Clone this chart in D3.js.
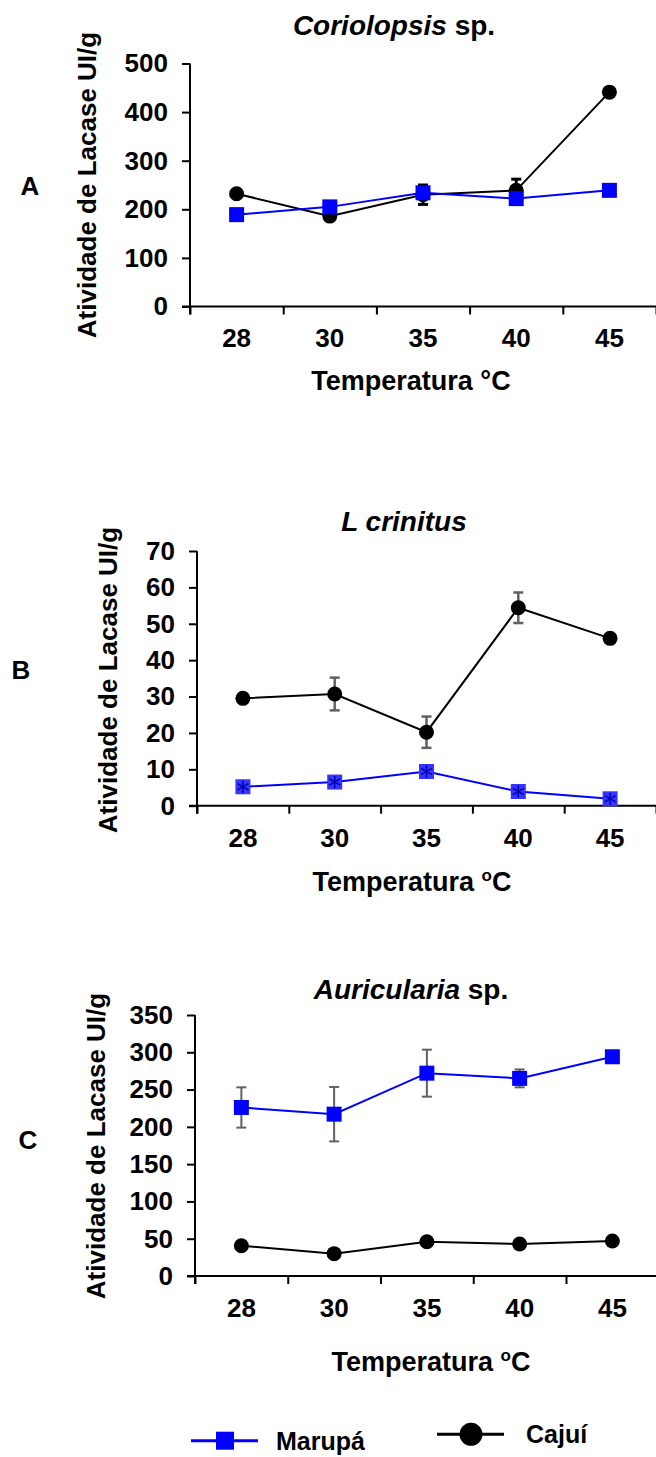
<!DOCTYPE html>
<html>
<head>
<meta charset="utf-8">
<script src="https://cdn.jsdelivr.net/npm/d3@7"></script>
<style>
  html, body { margin: 0; padding: 0; background: #fff; }
  svg { display: block; font-family: "Liberation Sans", Arial, sans-serif; font-weight: bold; }
</style>
</head>
<body>
<script>
// ---------------- DATA ----------------
const categories = ["28", "30", "35", "40", "45"];
const seriesNames = ["Marupá", "Cajuí"];

// Panel A – Coriolopsis sp.
const marupaA    = [189, 205, 234, 222, 239];
const marupaAErr = [3, 4, 5, 5, 4];
const cajuiA     = [232, 186, 230, 239, 441];
const cajuiAErr  = [5, 5, 20, 23, 8];
const ticksA     = [0, 100, 200, 300, 400, 500];

// Panel B – L crinitus
const marupaB    = [5.2, 6.5, 9.4, 3.9, 1.9];
const marupaBErr = [0, 0, 0, 0, 0];
const cajuiB     = [29.5, 30.7, 20.2, 54.4, 46.0];
const cajuiBErr  = [0, 4.5, 4.3, 4.2, 0];
const ticksB     = [0, 10, 20, 30, 40, 50, 60, 70];

// Panel C – Auricularia sp.
const marupaC    = [226, 217, 272, 265, 294];
const marupaCErr = [27, 36.5, 31.5, 12, 0];
const cajuiC     = [40.5, 30, 46, 43, 47];
const cajuiCErr  = [0, 0, 0, 0, 0];
const ticksC     = [0, 50, 100, 150, 200, 250, 300, 350];

const yLabel = "Atividade de Lacase UI/g";

// ---------------- DRAWING ----------------
const svg = d3.select("body").append("svg").attr("width", 656).attr("height", 1457);

const BLUE = "#0000ff";

function panel(p) {
  const g = svg.append("g");
  const x = d3.scaleBand().domain(categories).range([p.x0, p.x1]).padding(0);
  const xb = d3.scaleLinear().domain([0, categories.length]).range([p.x0, p.x1]);
  const y = d3.scaleLinear().domain([0, d3.max(p.yTicks)]).range([p.y0, p.y1]);

  // x axis line + boundary ticks
  const ax = g.append("g").attr("transform", `translate(0,${p.y0})`)
    .call(d3.axisBottom(xb).tickValues(d3.range(0, categories.length + 1)).tickSize(8).tickSizeOuter(0).tickFormat(""));
  ax.selectAll("path,line").attr("stroke", "#000").attr("stroke-width", 2);
  ax.select("path.domain").attr("d", `M${p.x0 - 8},0H${p.x1}`);

  // x labels
  const axl = g.append("g").attr("transform", `translate(0,${p.y0})`)
    .call(d3.axisBottom(x).tickSize(0).tickPadding(22.5));
  axl.select(".domain").remove();
  axl.selectAll("text").attr("font-size", 26).attr("font-weight", "bold")
    .attr("font-family", "Liberation Sans, Arial, sans-serif").attr("fill", "#000");

  // y axis
  const ay = g.append("g").attr("transform", `translate(${p.x0},0)`)
    .call(d3.axisLeft(y).tickValues(p.yTicks).tickSize(8).tickSizeOuter(0).tickPadding(14));
  ay.selectAll("path,line").attr("stroke", "#000").attr("stroke-width", 2);
  ay.select("path.domain").attr("d", `M0,${p.y0 + 8}V${p.y1}`);
  ay.selectAll("text").attr("font-size", 26).attr("font-weight", "bold")
    .attr("font-family", "Liberation Sans, Arial, sans-serif").attr("fill", "#000");

  const cx = d => x(d) + x.bandwidth() / 2;

  // series draw helper
  function series(vals, errs, color, errColor, errW, marker) {
    const pts = categories.map((c, i) => ({ c, v: vals[i], e: errs[i] }));
    // error bars
    const eb = g.append("g").attr("stroke", errColor).attr("stroke-width", errW).attr("fill", "none");
    pts.filter(d => d.e > 0).forEach(d => {
      const xx = cx(d.c);
      eb.append("line").attr("x1", xx).attr("x2", xx).attr("y1", y(d.v - d.e)).attr("y2", y(d.v + d.e));
      eb.append("line").attr("x1", xx - 5).attr("x2", xx + 5).attr("y1", y(d.v + d.e)).attr("y2", y(d.v + d.e));
      eb.append("line").attr("x1", xx - 5).attr("x2", xx + 5).attr("y1", y(d.v - d.e)).attr("y2", y(d.v - d.e));
    });
    g.append("path").datum(pts)
      .attr("d", d3.line().x(d => cx(d.c)).y(d => y(d.v)))
      .attr("fill", "none").attr("stroke", color).attr("stroke-width", 2);
    const mk = g.append("g");
    pts.forEach(d => {
      const xx = cx(d.c), yy = y(d.v);
      if (marker === "circle") {
        mk.append("circle").attr("cx", xx).attr("cy", yy).attr("r", 7.5).attr("fill", "#000");
      } else if (marker === "square") {
        mk.append("rect").attr("x", xx - 7.5).attr("y", yy - 7.5).attr("width", 15).attr("height", 15).attr("fill", BLUE);
      } else {
        mk.append("rect").attr("x", xx - 7.5).attr("y", yy - 7.5).attr("width", 15).attr("height", 15).attr("fill", "#3535ff");
        mk.append("path").attr("transform", `translate(${xx},${yy})`)
          .attr("d", d3.symbol(d3.symbolAsterisk, 110)())
          .attr("stroke", "#0000b0").attr("stroke-width", 1.5).attr("fill", "none");
      }
    });
  }

  p.draw(series);

  // title
  const t = g.append("text").attr("x", p.titleX).attr("y", p.titleY).attr("text-anchor", "middle")
    .attr("font-size", 28).attr("font-weight", "bold");
  t.append("tspan").attr("font-style", "italic").text(p.titleItalic);
  if (p.titleRest) t.append("tspan").text(p.titleRest);

  // y label
  g.append("text").attr("transform", `translate(${p.ylx},${p.yly}) rotate(-90)`)
    .attr("text-anchor", "middle").attr("dominant-baseline", "central")
    .attr("font-size", 26).attr("font-weight", "bold").text(yLabel);

  // panel letter
  g.append("text").attr("x", p.letterX).attr("y", p.letterY).attr("text-anchor", "middle")
    .attr("dominant-baseline", "central").attr("font-size", 26).attr("font-weight", "bold").text(p.letter);

  // x title
  const xt = g.append("text").attr("x", p.xtX).attr("y", p.xtY).attr("text-anchor", "middle")
    .attr("font-size", 27).attr("font-weight", "bold");
  if (p.sup) {
    xt.append("tspan").text("Temperatura ");
    xt.append("tspan").attr("font-size", 17).attr("dy", -10).text("o");
    xt.append("tspan").attr("dy", 10).text("C");
  } else {
    xt.text("Temperatura °C");
  }
}

panel({
  x0: 190, x1: 656, y0: 306.5, y1: 63.5, yTicks: ticksA,
  titleItalic: "Coriolopsis", titleRest: " sp.", titleX: 394, titleY: 35,
  ylx: 87, yly: 185, letter: "A", letterX: 30, letterY: 186,
  xtX: 411, xtY: 390, sup: false,
  draw: s => { s(cajuiA, cajuiAErr, "#000", "#000", 3, "circle"); s(marupaA, marupaAErr, BLUE, BLUE, 2, "square"); }
});

panel({
  x0: 197, x1: 656, y0: 805.7, y1: 551, yTicks: ticksB,
  titleItalic: "L crinitus", titleRest: "", titleX: 404, titleY: 531,
  ylx: 108, yly: 680, letter: "B", letterX: 21, letterY: 670,
  xtX: 412, xtY: 891, sup: true,
  draw: s => { s(cajuiB, cajuiBErr, "#000", "#606060", 2.5, "circle"); s(marupaB, marupaBErr, BLUE, "#606060", 2, "star"); }
});

panel({
  x0: 195, x1: 658.75, y0: 1276, y1: 1015, yTicks: ticksC,
  titleItalic: "Auricularia", titleRest: " sp.", titleX: 411, titleY: 999,
  ylx: 96, yly: 1146, letter: "C", letterX: 28, letterY: 1140,
  xtX: 431, xtY: 1371, sup: true,
  draw: s => { s(cajuiC, cajuiCErr, "#000", "#606060", 2, "circle"); s(marupaC, marupaCErr, BLUE, "#606060", 2, "square"); }
});

// ---------------- LEGEND ----------------
const lg = svg.append("g");
const legendItems = [
  { name: seriesNames[0], color: BLUE, marker: "square", lx: 191, ly: 1440.7, tx: 276, ty: 1450 },
  { name: seriesNames[1], color: "#000", marker: "circle", lx: 437, ly: 1434.3, tx: 526, ty: 1443 }
];
legendItems.forEach(it => {
  lg.append("line").attr("x1", it.lx).attr("x2", it.lx + 67).attr("y1", it.ly).attr("y2", it.ly)
    .attr("stroke", it.color).attr("stroke-width", 3);
  const mx = it.lx + 34;
  if (it.marker === "square") {
    lg.append("rect").attr("x", mx - 9).attr("y", it.ly - 9).attr("width", 18).attr("height", 18).attr("fill", it.color);
  } else {
    lg.append("circle").attr("cx", mx).attr("cy", it.ly).attr("r", 11.5).attr("fill", it.color);
  }
  lg.append("text").attr("x", it.tx).attr("y", it.ty).attr("font-size", 25).attr("font-weight", "bold").text(it.name);
});
</script>
</body>
</html>
